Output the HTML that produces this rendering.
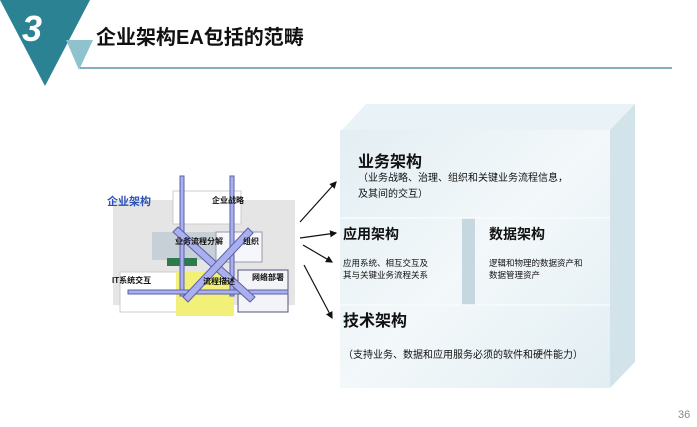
<!DOCTYPE html>
<html><head><meta charset="utf-8"><style>
body{margin:0;width:697px;height:427px;background:#fff;overflow:hidden;position:relative;font-family:"Liberation Sans","Noto Sans CJK SC",sans-serif}
.t{position:absolute;white-space:nowrap;color:#111}
</style></head><body>
<svg width="697" height="427" style="position:absolute;left:0;top:0">
<defs>
<linearGradient id="f" x1="0" y1="0" x2="1" y2="1"><stop offset="0" stop-color="#e3eef3"/><stop offset="0.5" stop-color="#f3f8fa"/><stop offset="1" stop-color="#e2eef3"/></linearGradient>
<marker id="ah" markerWidth="6" markerHeight="6" refX="5" refY="3" orient="auto"><path d="M0,0L6,3L0,6z" fill="#111"/></marker>
</defs>
<polygon points="0,0 90,0 45,86" fill="#2b8293"/>
<polygon points="66,40 93,40 79,70" fill="#8ec3cd"/>
<line x1="80" y1="68" x2="672" y2="68" stroke="#3e7f93" stroke-width="1.2"/>
<polygon points="342,130 366,104 635,104 610,130" fill="#e9f2f6"/>
<polygon points="610,130 635,104 635,362 610,388" fill="#d3e3ea"/>
<rect x="340" y="130" width="270" height="258" fill="url(#f)"/>
<rect x="462" y="218" width="13" height="87" fill="#c6d8df"/>
<line x1="340" y1="218" x2="610" y2="218" stroke="#f8fbfc" stroke-width="1.5"/>
<line x1="340" y1="305" x2="610" y2="305" stroke="#f8fbfc" stroke-width="1.5"/>
<rect x="113" y="200" width="182" height="105" fill="#e5e5e5"/>
<rect x="173" y="191" width="68" height="33" fill="#fff" stroke="#ccc"/>
<rect x="152" y="232" width="64" height="28" fill="#c7d0d6"/>
<rect x="167" y="258" width="30" height="8" fill="#2f7a4c"/>
<rect x="216" y="232" width="46" height="30" fill="#f6f7fb" stroke="#99a"/>
<rect x="120" y="272" width="58" height="40" fill="#fff" stroke="#ccc"/>
<rect x="176" y="272" width="58" height="44" fill="#f3f07a"/>
<rect x="238" y="270" width="50" height="42" fill="#f2f4f8" stroke="#557"/>
<g stroke="#5b5fa8" stroke-width="1" fill="#aab0ee">
<rect x="180" y="176" width="4" height="120"/>
<rect x="230" y="176" width="4" height="120"/>
<rect x="128" y="290" width="160" height="4"/>
<polygon points="173,232 178,227 255,297 250,302"/>
<polygon points="248,228 253,233 188,302 183,297"/>
</g>
<line x1="300" y1="222" x2="336" y2="182" stroke="#111" stroke-width="1.2" marker-end="url(#ah)"/>
<line x1="300" y1="238" x2="336" y2="233" stroke="#111" stroke-width="1.2" marker-end="url(#ah)"/>
<line x1="303" y1="245" x2="332" y2="262" stroke="#111" stroke-width="1.2" marker-end="url(#ah)"/>
<line x1="304" y1="265" x2="332" y2="318" stroke="#111" stroke-width="1.2" marker-end="url(#ah)"/>
</svg>
<div class="t" style="left:22px;top:8px;font-size:36px;font-weight:bold;font-style:italic;color:#fff">3</div>
<div class="t" style="left:96px;top:21px;font-size:20px;font-weight:bold">企业架构EA包括的范畴</div>
<div class="t" style="left:107px;top:193px;font-size:11px;font-weight:bold;color:#2c52b8">企业架构</div>
<div class="t" style="left:212px;top:195px;font-size:8px;font-weight:bold">企业战略</div>
<div class="t" style="left:175px;top:236px;font-size:8px;font-weight:bold">业务流程分解</div>
<div class="t" style="left:243px;top:236px;font-size:8px;font-weight:bold">组织</div>
<div class="t" style="left:112px;top:275px;font-size:8px;font-weight:bold">IT系统交互</div>
<div class="t" style="left:203px;top:276px;font-size:8px;font-weight:bold">流程描述</div>
<div class="t" style="left:252px;top:272px;font-size:8px;font-weight:bold">网络部署</div>
<div class="t" style="left:358px;top:148px;font-size:16px;font-weight:bold">业务架构</div>
<div class="t" style="left:358px;top:171px;font-size:10px;line-height:16px">（业务战略、治理、组织和关键业务流程信息，<br>及其间的交互）</div>
<div class="t" style="left:343px;top:224px;font-size:14px;font-weight:bold">应用架构</div>
<div class="t" style="left:343px;top:257px;font-size:8.5px;line-height:12px">应用系统、相互交互及<br>其与关键业务流程关系</div>
<div class="t" style="left:489px;top:224px;font-size:14px;font-weight:bold">数据架构</div>
<div class="t" style="left:489px;top:257px;font-size:8.5px;line-height:12px">逻辑和物理的数据资产和<br>数据管理资产</div>
<div class="t" style="left:343px;top:307px;font-size:16px;font-weight:bold">技术架构</div>
<div class="t" style="left:343px;top:346px;font-size:10px">（支持业务、数据和应用服务必须的软件和硬件能力）</div>
<div class="t" style="left:678px;top:409px;font-size:11px;color:#888">36</div>
</body></html>
